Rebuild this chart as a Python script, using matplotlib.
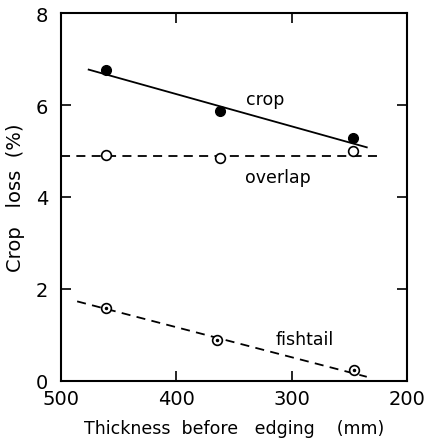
import matplotlib
matplotlib.use("Agg")
import matplotlib.pyplot as plt

# measured points
thickness = [461, 362, 247]
crop = [6.76, 5.86, 5.28]
overlap = [4.92, 4.85, 5.01]
fishtail_x = [461, 365, 246]
fishtail = [1.59, 0.90, 0.24]

# fitted lines (end points)
crop_fit_x = [476, 235]
crop_fit_y = [6.77, 5.08]
overlap_fit_x = [500, 224]
overlap_fit_y = [4.90, 4.90]
fish_fit_x = [486, 235]
fish_fit_y = [1.73, 0.09]

xticks = [500, 400, 300, 200]
yticks = [0, 2, 4, 6, 8]


def main():
    plt.rcParams['font.family'] = ['DejaVu Sans']
    fig = plt.figure(figsize=(4.25, 4.39), dpi=100)
    ax = fig.add_axes([0.1435, 0.13, 0.8145, 0.838])

    ax.plot(crop_fit_x, crop_fit_y, 'k-', lw=1.3)
    ax.plot(overlap_fit_x, overlap_fit_y, 'k--', lw=1.3, dashes=(5, 3.5))
    ax.plot(fish_fit_x, fish_fit_y, 'k--', lw=1.3, dashes=(5, 3.5))

    ax.plot(thickness, crop, 'o', color='k', ms=7, zorder=3)
    ax.plot(thickness, overlap, 'o', mfc='white', mec='k', mew=1.2, ms=7, zorder=3)
    ax.plot(fishtail_x, fishtail, 'o', mfc='white', mec='k', mew=1.2, ms=7, zorder=3)
    ax.plot(fishtail_x, fishtail, '.', color='k', ms=3, zorder=4)

    ax.text(323, 6.13, "crop", fontsize=12.5, ha='center', va='center')
    ax.text(312, 4.44, "overlap", fontsize=12.5, ha='center', va='center')
    ax.text(289, 0.92, "fishtail", fontsize=12.5, ha='center', va='center')

    ax.set_xlim(500, 200)
    ax.set_ylim(0, 8)
    ax.set_xticks(xticks)
    ax.set_yticks(yticks)
    ax.tick_params(direction='in', top=True, right=True, length=7, width=1.2,
                   labelsize=14)
    ax.tick_params(axis='x', pad=6)
    ax.tick_params(axis='y', pad=9)
    for s in ax.spines.values():
        s.set_linewidth(1.5)

    ax.set_xlabel("Thickness  before   edging    (mm)", fontsize=12.5, labelpad=8)
    ax.set_ylabel("Crop   loss  (%)", fontsize=14, labelpad=8)

    fig.savefig("out.png", dpi=100)


if __name__ == '__main__':
    main()
